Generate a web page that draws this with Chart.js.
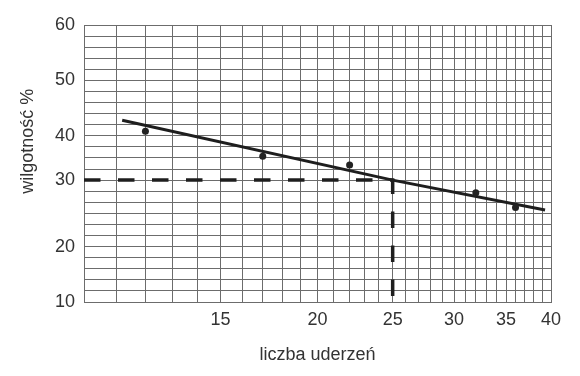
<!DOCTYPE html>
<html><head><meta charset="utf-8">
<script src="https://cdn.jsdelivr.net/npm/chart.js@4/dist/chart.umd.min.js"></script>
<style>html,body{margin:0;padding:0;background:#fff}#wrap{width:580px;height:376px}</style>
</head><body><div id="wrap"><canvas id="c"></canvas></div>
<script>
// measured points (liczba uderzeń, wilgotność %)
const blows = [12, 17, 22, 32, 36];
const moisture = [40.8, 35.4, 33.4, 28.1, 25.9];
// fitted straight line
const fitBlows = [11.2, 25, 39.3];
const fitMoisture = [42.8, 30, 25.5];
// liquid limit read-off (dashed)
const limitBlows = 25;
const limitMoisture = 30;
// axes
const xTickLabels = [15, 20, 25, 30, 35, 40];
const xGridValues = Array.from({length: 31}, (_, i) => 10 + i);
const yTickLabels = [10, 20, 30, 40, 50, 60];
const yGridSteps = [5, 6, 4, 5, 5]; // minor grid divisions between successive y labels (as printed)
const xTitle = 'liczba uderzeń';
const yTitle = 'wilgotność %';

const GRID = '#6c6c6c';
const TEXT = '#333';
const FONT = "'Liberation Sans', Arial, sans-serif";

const totalSteps = yGridSteps.reduce((a, b) => a + b, 0);
function toGrid(v) {
  let acc = 0;
  for (let i = 0; i < yGridSteps.length; i++) {
    const a = yTickLabels[i], b = yTickLabels[i + 1];
    if (v <= b || i === yGridSteps.length - 1) return acc + (v - a) / (b - a) * yGridSteps[i];
    acc += yGridSteps[i];
  }
}
function fromGrid(g) {
  let acc = 0;
  for (let i = 0; i < yGridSteps.length; i++) {
    const a = yTickLabels[i], b = yTickLabels[i + 1];
    if (g <= acc + yGridSteps[i] || i === yGridSteps.length - 1) return a + (g - acc) / yGridSteps[i] * (b - a);
    acc += yGridSteps[i];
  }
}
class SegmentedScale extends Chart.LinearScale {
  getPixelForValue(v) {
    if (v === null || v === undefined || isNaN(v)) return NaN;
    return this.getPixelForDecimal(toGrid(v) / totalSteps);
  }
  getValueForPixel(p) {
    return fromGrid(this.getDecimalForPixel(p) * totalSteps);
  }
}
SegmentedScale.id = 'segmented';
SegmentedScale.defaults = Chart.LinearScale.defaults;
Chart.register(SegmentedScale);

const yGridValues = [];
for (let i = 0; i < yGridSteps.length; i++) {
  for (let j = 0; j < yGridSteps[i]; j++) {
    yGridValues.push(yTickLabels[i] + (yTickLabels[i + 1] - yTickLabels[i]) * j / yGridSteps[i]);
  }
}
yGridValues.push(yTickLabels[yTickLabels.length - 1]);

Chart.defaults.font.family = FONT;
Chart.defaults.color = TEXT;

// y-axis title, placed as in the printed figure (slightly above the axis middle)
const yTitlePlugin = {
  id: 'yTitle',
  afterDraw(chart) {
    const ctx = chart.ctx;
    const area = chart.chartArea;
    ctx.save();
    ctx.font = '18px ' + FONT;
    ctx.fillStyle = TEXT;
    ctx.textAlign = 'center';
    ctx.textBaseline = 'middle';
    ctx.translate(28, area.top + (area.bottom - area.top) * 0.42);
    ctx.rotate(-Math.PI / 2);
    ctx.fillText(yTitle, 0, 0);
    ctx.restore();
  }
};

new Chart(document.getElementById('c'), {
  type: 'scatter',
  data: {
    datasets: [
      {
        label: 'pomiary',
        data: blows.map((b, i) => ({x: b, y: moisture[i]})),
        showLine: false,
        pointRadius: 3.5,
        pointBackgroundColor: '#222',
        pointBorderColor: '#222',
        pointBorderWidth: 0,
        order: 0
      },
      {
        label: 'prosta',
        data: fitBlows.map((b, i) => ({x: b, y: fitMoisture[i]})),
        showLine: true,
        pointRadius: 0,
        borderColor: '#1e1e1e',
        borderWidth: 3,
        tension: 0,
        order: 1
      },
      {
        label: 'granica płynności',
        data: [
          {x: xGridValues[0], y: limitMoisture},
          {x: limitBlows, y: limitMoisture},
          {x: limitBlows, y: yTickLabels[0]}
        ],
        showLine: true,
        pointRadius: 0,
        borderColor: '#1e1e1e',
        borderWidth: 3.5,
        borderDash: [16.5, 17.5],
        tension: 0,
        order: 2
      }
    ]
  },
  options: {
    responsive: true,
    maintainAspectRatio: false,
    animation: false,
    layout: {padding: {top: 25, right: 29, left: 0, bottom: 0}},
    plugins: {legend: {display: false}, tooltip: {enabled: false}},
    scales: {
      x: {
        type: 'logarithmic',
        min: 10,
        max: 40,
        afterBuildTicks: s => { s.ticks = xGridValues.map(v => ({value: v})); },
        afterFit: s => { s.height = 74; },
        ticks: {
          autoSkip: false, maxRotation: 0, minRotation: 0, padding: 7,
          font: {size: 18},
          callback: v => xTickLabels.includes(v) ? String(v) : ''
        },
        grid: {color: GRID, lineWidth: 1, drawTicks: false},
        border: {color: GRID, width: 1},
        title: {display: true, text: xTitle, font: {size: 18}, padding: {top: 0, bottom: 10}}
      },
      y: {
        type: 'segmented',
        min: 10,
        max: 60,
        afterBuildTicks: s => { s.ticks = yGridValues.map(v => ({value: v})); },
        afterFit: s => { s.width = 84; },
        ticks: {
          autoSkip: false, padding: 9,
          font: {size: 18},
          callback: v => yTickLabels.some(t => Math.abs(t - v) < 1e-6) ? String(Math.round(v)) : ''
        },
        grid: {color: GRID, lineWidth: 1, drawTicks: false},
        border: {color: GRID, width: 1},
        title: {display: false, text: yTitle}
      }
    }
  },
  plugins: [yTitlePlugin]
});
</script>
</body></html>
